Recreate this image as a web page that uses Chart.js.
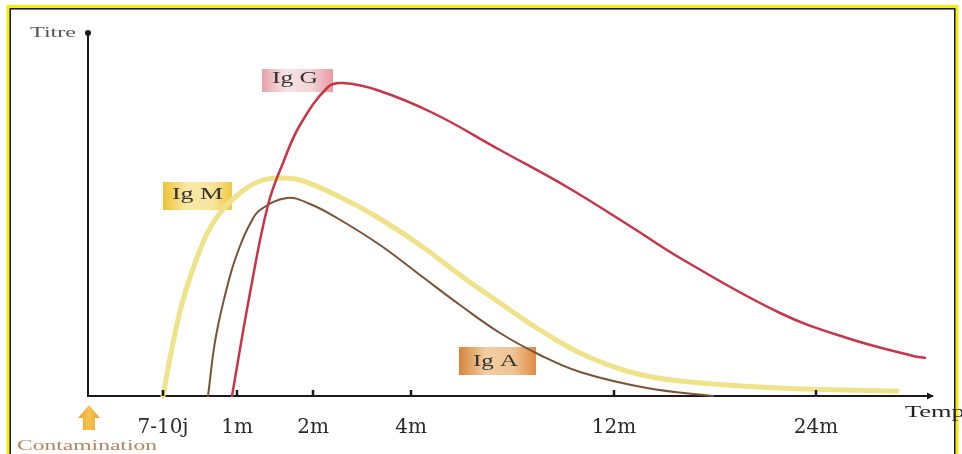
<!DOCTYPE html>
<html>
<head>
<meta charset="utf-8">
<script src="https://cdn.jsdelivr.net/npm/chart.js@4.4.1/dist/chart.umd.min.js"></script>
<style>
  html, body { margin: 0; padding: 0; background: #fff; }
  #wrap { width: 962px; height: 454px; position: relative; }
</style>
</head>
<body>
<div id="wrap"><canvas id="chart" width="962" height="454"></canvas></div>
<script>
// tick positions along the time axis and their labels
const tickPos = [75, 149, 225, 323, 526, 728];
const tickLabels = ['7-10j', '1m', '2m', '4m', '12m', '24m'];

// curves (x = time position, y = titre)
const igGx = [144, 162, 180, 195, 212, 240, 255, 289, 345, 412, 479, 545, 592, 692, 759, 825, 837];
const igGy = [0, 103, 191, 233, 271, 309, 313, 306, 283, 246, 209, 168, 138, 83, 58, 40, 38];

const igMx = [75, 84, 95, 112, 129, 152, 172, 190, 212, 252, 289, 332, 372, 412, 452, 492, 542, 592, 692, 809];
const igMy = [0, 48, 96, 146, 179, 203, 215, 218, 216, 199, 179, 151, 121, 93, 66, 43, 24, 15, 8, 5];

const igAx = [120, 128, 142, 152, 162, 172, 199, 222, 249, 292, 332, 372, 412, 452, 492, 559, 625];
const igAy = [0, 60, 120, 150, 172, 186, 198, 192, 178, 151, 121, 91, 63, 41, 24, 8, 0];

function pts(xs, ys) {
    return xs.map((x, i) => ({x: x, y: ys[i]}));
}

function stretchText(ctx, text, x, y, width, font, color) {
    ctx.save();
    ctx.font = font;
    ctx.fillStyle = color;
    ctx.textBaseline = 'middle';
    ctx.textAlign = 'left';
    const w = ctx.measureText(text).width;
    ctx.translate(x, y);
    ctx.scale(width / w, 1);
    ctx.fillText(text, 0, 0);
    ctx.restore();
}

// label boxes: l, t, w, h in pixels + gradient stops
const boxes = [
    {text: 'Ig G', l: 262, t: 69, w: 71, h: 23, tx: 272, tw: 46, ty: 79,
        stops: ['#e7a2aa', '#f6e6e8', '#f1d2d5', '#e99aa2']},
    {text: 'Ig M', l: 163, t: 182, w: 69, h: 28, tx: 172, tw: 51, ty: 195,
        stops: ['#efc238', '#f9e9a6', '#f8e6a0', '#f1c846']},
    {text: 'Ig A', l: 459, t: 347, w: 77, h: 28, tx: 473, tw: 45, ty: 362,
        stops: ['#d7843a', '#f2cfa2', '#efc594', '#e08c44']}
];

const decor = {
    id: 'decor',
    beforeDraw(chart) {
        const ctx = chart.ctx;
        ctx.save();
        ctx.fillStyle = '#fff';
        ctx.fillRect(0, 0, chart.width, chart.height);
        // frame
        ctx.strokeStyle = '#f5ef00';
        ctx.lineWidth = 3;
        ctx.strokeRect(8, 6.5, 949, 470);
        ctx.strokeStyle = '#111';
        ctx.lineWidth = 1.5;
        ctx.strokeRect(10.2, 8.8, 944.6, 470);
        ctx.restore();
    },
    beforeDatasetsDraw(chart) {
        const ctx = chart.ctx;
        boxes.forEach(b => {
            const g = ctx.createLinearGradient(b.l, 0, b.l + b.w, 0);
            g.addColorStop(0, b.stops[0]);
            g.addColorStop(0.35, b.stops[1]);
            g.addColorStop(0.7, b.stops[2]);
            g.addColorStop(1, b.stops[3]);
            ctx.fillStyle = g;
            ctx.fillRect(b.l, b.t, b.w, b.h);
            stretchText(ctx, b.text, b.tx, b.ty, b.tw, '17px "Liberation Serif"', '#333');
        });
    },
    afterDraw(chart) {
        const ctx = chart.ctx;
        const xs = chart.scales.x, ys = chart.scales.y;
        const x0 = xs.getPixelForValue(0), y0 = ys.getPixelForValue(0);
        const yTop = ys.getPixelForValue(ys.max), xEnd = xs.getPixelForValue(xs.max);
        ctx.save();
        ctx.strokeStyle = '#1a1a1a';
        ctx.fillStyle = '#1a1a1a';
        // y axis line
        ctx.lineWidth = 2;
        ctx.beginPath();
        ctx.moveTo(x0, y0);
        ctx.lineTo(x0, yTop);
        ctx.stroke();
        ctx.beginPath();
        ctx.arc(x0, yTop, 3, 0, Math.PI * 2);
        ctx.fill();
        // arrow end on x axis
        ctx.beginPath();
        ctx.moveTo(xEnd + 2, y0);
        ctx.lineTo(xEnd - 5, y0 - 3.5);
        ctx.lineTo(xEnd - 5, y0 + 3.5);
        ctx.closePath();
        ctx.fill();
        // small tick marks above the axis
        ctx.lineWidth = 2.5;
        tickPos.forEach(v => {
            const px = xs.getPixelForValue(v);
            ctx.beginPath();
            ctx.moveTo(px, y0);
            ctx.lineTo(px, y0 - 6);
            ctx.stroke();
        });
        // contamination arrow
        const ag = ctx.createLinearGradient(78, 0, 100, 0);
        ag.addColorStop(0, '#eea02a');
        ag.addColorStop(0.5, '#f8c24e');
        ag.addColorStop(1, '#eda435');
        ctx.fillStyle = ag;
        ctx.beginPath();
        ctx.moveTo(89, 405);
        ctx.lineTo(100, 418);
        ctx.lineTo(95, 418);
        ctx.lineTo(95, 430);
        ctx.lineTo(83, 430);
        ctx.lineTo(83, 418);
        ctx.lineTo(78, 418);
        ctx.closePath();
        ctx.fill();
        ctx.restore();

        stretchText(ctx, 'Titre', 30, 33, 46, '15px "Liberation Serif"', '#555');
        stretchText(ctx, 'Temps', 905, 413, 70, '16px "Liberation Serif"', '#222');
        stretchText(ctx, 'Contamination', 17, 446, 140, '14px "Liberation Serif"', '#b4845c');
    }
};

const ctx = document.getElementById('chart');
new Chart(ctx, {
    type: 'line',
    data: {
        datasets: [
            {label: 'Ig G', data: pts(igGx, igGy), borderColor: '#c93548', borderWidth: 2.5, order: 1},
            {label: 'Ig A', data: pts(igAx, igAy), borderColor: '#7a5234', borderWidth: 2, order: 2},
            {label: 'Ig M', data: pts(igMx, igMy), borderColor: '#efe389', borderWidth: 5, order: 3}
        ]
    },
    options: {
        responsive: false,
        animation: false,
        layout: {padding: {left: 88, top: 33, right: 30, bottom: 0}},
        elements: {
            point: {radius: 0},
            line: {tension: 0.4, fill: false, borderCapStyle: 'round'}
        },
        datasets: {line: {clip: false}},
        plugins: {legend: {display: false}, tooltip: {enabled: false}},
        scales: {
            x: {
                type: 'linear',
                min: 0,
                max: 844,
                afterBuildTicks: (scale) => { scale.ticks = tickPos.map(v => ({value: v})); },
                afterFit: (scale) => { scale.height = 58; },
                grid: {display: false},
                border: {display: true, color: '#1a1a1a', width: 2},
                ticks: {
                    autoSkip: false,
                    maxRotation: 0,
                    padding: 12,
                    color: '#2a2a2a',
                    font: {family: '"DejaVu Serif"', size: 20},
                    callback: (v, i) => tickLabels[i]
                }
            },
            y: {
                min: 0,
                max: 363,
                afterFit: (scale) => { scale.width = 0; },
                grid: {display: false},
                border: {display: false},
                ticks: {display: false}
            }
        }
    },
    plugins: [decor]
});
</script>
</body>
</html>
